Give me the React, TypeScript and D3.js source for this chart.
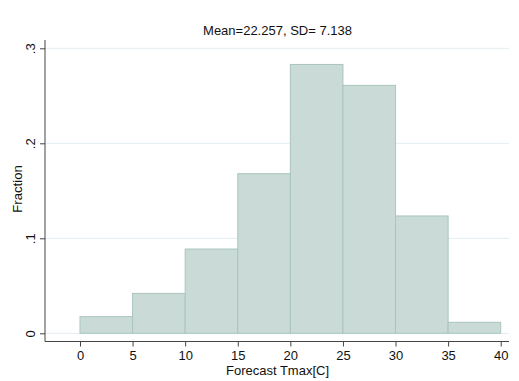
import { useEffect, useRef } from 'react';
import { select, scaleLinear, axisBottom, axisLeft } from 'd3';

const binStarts = [0, 5, 10, 15, 20, 25, 30, 35];
const binWidth = 5;
const fractions = [0.0175, 0.042, 0.0887, 0.168, 0.283, 0.261, 0.1235, 0.0116];
const xTicks = [0, 5, 10, 15, 20, 25, 30, 35, 40];
const yTicks = [0, 0.1, 0.2, 0.3];
const yTickLabels = ['0', '.1', '.2', '.3'];
const title = 'Mean=22.257, SD= 7.138';

const W = 519;
const H = 381;

const App = () => {
  const ref = useRef<SVGSVGElement>(null);

  useEffect(() => {
    const svg = select(ref.current);
    svg.selectAll('*').remove();

    const x = scaleLinear().domain([0, 40]).range([80, 500.7]);
    const y = scaleLinear().domain([0, 0.3]).range([333.3, 48.3]);
    const left = 45;
    const right = 509;
    const axisY = 341.5;
    const font = 'Liberation Sans, Arial, Helvetica, sans-serif';

    // grid
    svg
      .append('g')
      .selectAll('line')
      .data(yTicks)
      .enter()
      .append('line')
      .attr('x1', left)
      .attr('x2', right)
      .attr('y1', (d) => y(d))
      .attr('y2', (d) => y(d))
      .attr('stroke', '#e4edf2')
      .attr('stroke-width', 1);

    // bars
    svg
      .append('g')
      .selectAll('rect')
      .data(binStarts)
      .enter()
      .append('rect')
      .attr('x', (d) => x(d))
      .attr('y', (d, i) => y(fractions[i]))
      .attr('width', (d) => x(d + binWidth) - x(d))
      .attr('height', (d, i) => y(0) - y(fractions[i]))
      .attr('fill', '#cadbd7')
      .attr('stroke', '#a9c5bd')
      .attr('stroke-width', 1);

    // x axis
    const gx = svg
      .append('g')
      .attr('transform', `translate(0,${axisY})`)
      .call(axisBottom(x).tickValues(xTicks).tickSize(5).tickPadding(3).tickSizeOuter(0));
    gx.select('.domain').attr('d', `M${left},0H${right}`).attr('stroke', '#444');
    gx.selectAll('.tick line').attr('stroke', '#444');
    gx.selectAll('.tick text')
      .attr('font-family', font)
      .attr('font-size', 13)
      .attr('fill', '#111')
      .attr('dy', null)
      .attr('y', 18.5);

    // y axis
    const gy = svg
      .append('g')
      .attr('transform', `translate(${left},0)`)
      .call(
        axisLeft(y)
          .tickValues(yTicks)
          .tickSize(5)
          .tickSizeOuter(0)
          .tickFormat((d, i) => yTickLabels[i]),
      );
    gy.select('.domain').attr('d', `M0,40V${axisY}`).attr('stroke', '#444');
    gy.selectAll('.tick line').attr('stroke', '#444');
    gy.selectAll('.tick text')
      .attr('font-family', font)
      .attr('font-size', 13)
      .attr('fill', '#111')
      .attr('x', null)
      .attr('dy', null)
      .attr('text-anchor', 'middle')
      .attr('transform', 'translate(-10,0) rotate(-90)');

    // titles
    svg
      .append('text')
      .attr('x', 277.5)
      .attr('y', 35)
      .attr('text-anchor', 'middle')
      .attr('font-family', font)
      .attr('font-size', 13)
      .attr('fill', '#111')
      .text(title);

    svg
      .append('text')
      .attr('x', 277.5)
      .attr('y', 375)
      .attr('text-anchor', 'middle')
      .attr('font-family', font)
      .attr('font-size', 13)
      .attr('fill', '#111')
      .text('Forecast Tmax[C]');

    svg
      .append('text')
      .attr('transform', `translate(22,189) rotate(-90)`)
      .attr('text-anchor', 'middle')
      .attr('font-family', font)
      .attr('font-size', 13.2)
      .attr('fill', '#111')
      .text('Fraction');
  }, []);

  return (
    <svg
      ref={ref}
      width={W}
      height={H}
      style={{ position: 'absolute', left: 0, top: 0, background: 'white' }}
    />
  );
};

export default App;
